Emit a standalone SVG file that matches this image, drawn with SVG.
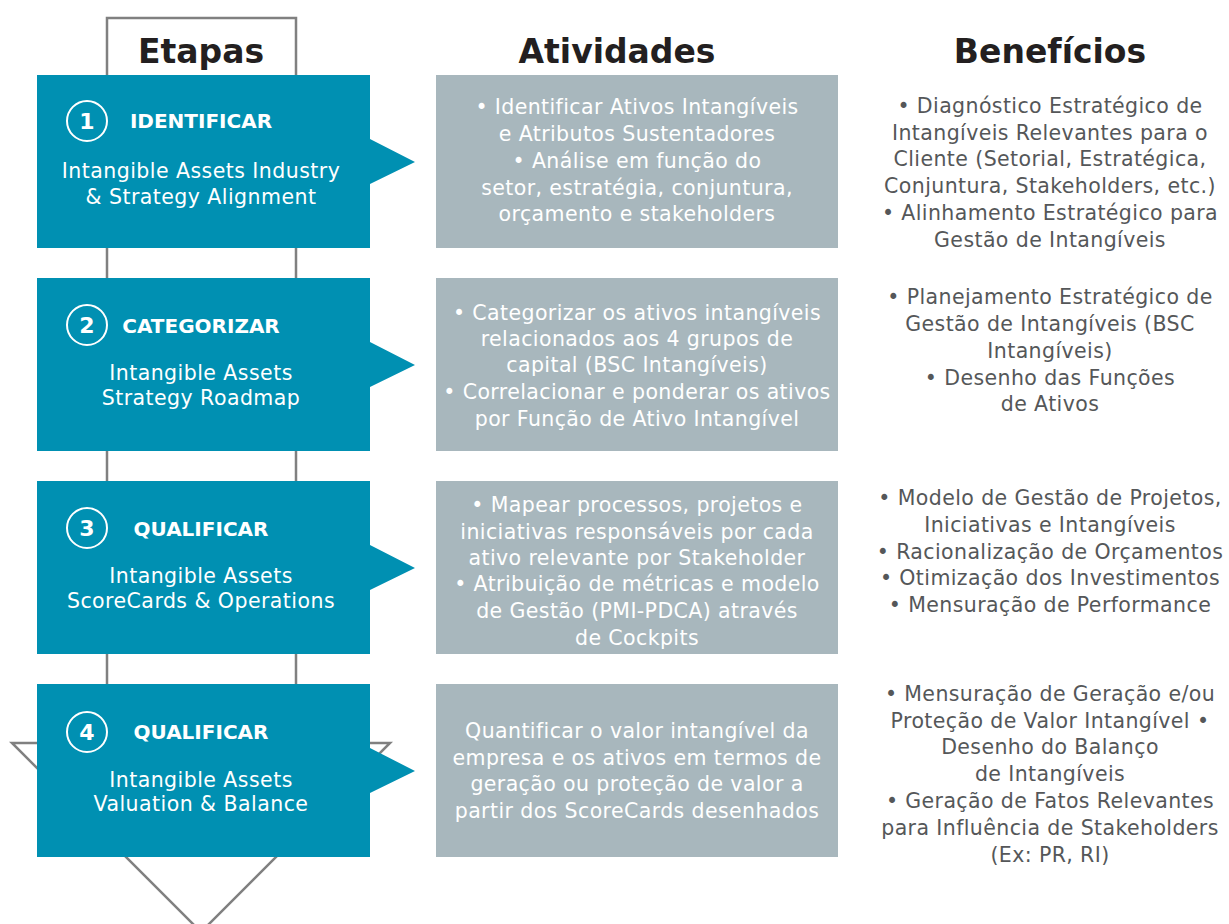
<svg xmlns="http://www.w3.org/2000/svg" width="1229" height="924" viewBox="0 0 1229 924">
<style>
.hdr{font-family:"DejaVu Sans",sans-serif;font-weight:bold;font-size:33px;fill:#231f20;text-anchor:middle}
.blue{fill:#0090b2}
.gray{fill:#a8b7bd}
.num{fill:none;stroke:#ffffff;stroke-width:2}
.numt{font-family:"DejaVu Sans",sans-serif;font-weight:bold;font-size:22px;fill:#ffffff;text-anchor:middle}
.ttl{font-family:"DejaVu Sans",sans-serif;font-weight:bold;font-size:20px;fill:#ffffff;text-anchor:middle}
.sub{font-family:"DejaVu Sans",sans-serif;font-size:20.5px;letter-spacing:0.45px;fill:#ffffff;text-anchor:middle}
.act{font-family:"DejaVu Sans",sans-serif;font-size:20.5px;letter-spacing:0.4px;fill:#ffffff;text-anchor:middle}
.ben{font-family:"DejaVu Sans",sans-serif;font-size:20.5px;letter-spacing:0.4px;fill:#555759;text-anchor:middle}
.outline{fill:none;stroke:#808080;stroke-width:2.5}
</style>
<rect width="1229" height="924" fill="#ffffff"/>
<g id="connectors">
<path class="outline" d="M201,932 L12,743 L107,743 L107,18 L296,18 L296,743 L390,743 Z"/>
</g>
<text class="hdr" x="201" y="63">Etapas</text>
<text class="hdr" x="617" y="63">Atividades</text>
<text class="hdr" x="1050" y="63">Benefícios</text>

<g id="step1">
<path class="blue" d="M37,75 H370 V139 L415,162 L370,184 V248 H37 Z"/>
<circle class="num" cx="87" cy="121" r="20"/>
<text class="numt" x="87" y="129">1</text>
<text class="ttl" x="201" y="128">IDENTIFICAR</text>
<text class="sub" x="201" y="178">Intangible Assets Industry</text>
<text class="sub" x="201" y="204">&amp; Strategy Alignment</text>
</g>
<g id="act1">
<rect class="gray" x="436" y="75" width="402" height="173"/>
<text class="act" x="637" y="114">• Identificar Ativos Intangíveis</text>
<text class="act" x="637" y="141">e Atributos Sustentadores</text>
<text class="act" x="637" y="168">• Análise em função do</text>
<text class="act" x="637" y="195">setor, estratégia, conjuntura,</text>
<text class="act" x="637" y="221">orçamento e stakeholders</text>
</g>
<g id="ben1">
<text class="ben" x="1050" y="113">• Diagnóstico Estratégico de</text>
<text class="ben" x="1050" y="140">Intangíveis Relevantes para o</text>
<text class="ben" x="1050" y="166">Cliente (Setorial, Estratégica,</text>
<text class="ben" x="1050" y="193">Conjuntura, Stakeholders, etc.)</text>
<text class="ben" x="1050" y="220">• Alinhamento Estratégico para</text>
<text class="ben" x="1050" y="247">Gestão de Intangíveis</text>
</g>

<g id="step2">
<path class="blue" d="M37,278 H370 V342 L415,365 L370,387 V451 H37 Z"/>
<circle class="num" cx="87" cy="325" r="20"/>
<text class="numt" x="87" y="333">2</text>
<text class="ttl" x="201" y="333">CATEGORIZAR</text>
<text class="sub" x="201" y="380">Intangible Assets</text>
<text class="sub" x="201" y="405">Strategy Roadmap</text>
</g>
<g id="act2">
<rect class="gray" x="436" y="278" width="402" height="173"/>
<text class="act" x="637" y="320">• Categorizar os ativos intangíveis</text>
<text class="act" x="637" y="346">relacionados aos 4 grupos de</text>
<text class="act" x="637" y="372">capital (BSC Intangíveis)</text>
<text class="act" x="637" y="399">• Correlacionar e ponderar os ativos</text>
<text class="act" x="637" y="426">por Função de Ativo Intangível</text>
</g>
<g id="ben2">
<text class="ben" x="1050" y="304">• Planejamento Estratégico de</text>
<text class="ben" x="1050" y="331">Gestão de Intangíveis (BSC</text>
<text class="ben" x="1050" y="358">Intangíveis)</text>
<text class="ben" x="1050" y="385">• Desenho das Funções</text>
<text class="ben" x="1050" y="411">de Ativos</text>
</g>

<g id="step3">
<path class="blue" d="M37,481 H370 V545 L415,568 L370,590 V654 H37 Z"/>
<circle class="num" cx="87" cy="528" r="20"/>
<text class="numt" x="87" y="536">3</text>
<text class="ttl" x="201" y="536">QUALIFICAR</text>
<text class="sub" x="201" y="583">Intangible Assets</text>
<text class="sub" x="201" y="608">ScoreCards &amp; Operations</text>
</g>
<g id="act3">
<rect class="gray" x="436" y="481" width="402" height="173"/>
<text class="act" x="637" y="512">• Mapear processos, projetos e</text>
<text class="act" x="637" y="539">iniciativas responsáveis por cada</text>
<text class="act" x="637" y="565">ativo relevante por Stakeholder</text>
<text class="act" x="637" y="591">• Atribuição de métricas e modelo</text>
<text class="act" x="637" y="618">de Gestão (PMI-PDCA) através</text>
<text class="act" x="637" y="645">de Cockpits</text>
</g>
<g id="ben3">
<text class="ben" x="1050" y="505">• Modelo de Gestão de Projetos,</text>
<text class="ben" x="1050" y="532">Iniciativas e Intangíveis</text>
<text class="ben" x="1050" y="559">• Racionalização de Orçamentos</text>
<text class="ben" x="1050" y="585">• Otimização dos Investimentos</text>
<text class="ben" x="1050" y="612">• Mensuração de Performance</text>
</g>

<g id="step4">
<path class="blue" d="M37,684 H370 V748 L415,771 L370,793 V857 H37 Z"/>
<circle class="num" cx="87" cy="732" r="20"/>
<text class="numt" x="87" y="740">4</text>
<text class="ttl" x="201" y="739">QUALIFICAR</text>
<text class="sub" x="201" y="787">Intangible Assets</text>
<text class="sub" x="201" y="811">Valuation &amp; Balance</text>
</g>
<g id="act4">
<rect class="gray" x="436" y="684" width="402" height="173"/>
<text class="act" x="637" y="738">Quantificar o valor intangível da</text>
<text class="act" x="637" y="765">empresa e os ativos em termos de</text>
<text class="act" x="637" y="791">geração ou proteção de valor a</text>
<text class="act" x="637" y="818">partir dos ScoreCards desenhados</text>
</g>
<g id="ben4">
<text class="ben" x="1050" y="701">• Mensuração de Geração e/ou</text>
<text class="ben" x="1050" y="728">Proteção de Valor Intangível •</text>
<text class="ben" x="1050" y="754">Desenho do Balanço</text>
<text class="ben" x="1050" y="781">de Intangíveis</text>
<text class="ben" x="1050" y="808">• Geração de Fatos Relevantes</text>
<text class="ben" x="1050" y="835">para Influência de Stakeholders</text>
<text class="ben" x="1050" y="862">(Ex: PR, RI)</text>
</g>
</svg>
